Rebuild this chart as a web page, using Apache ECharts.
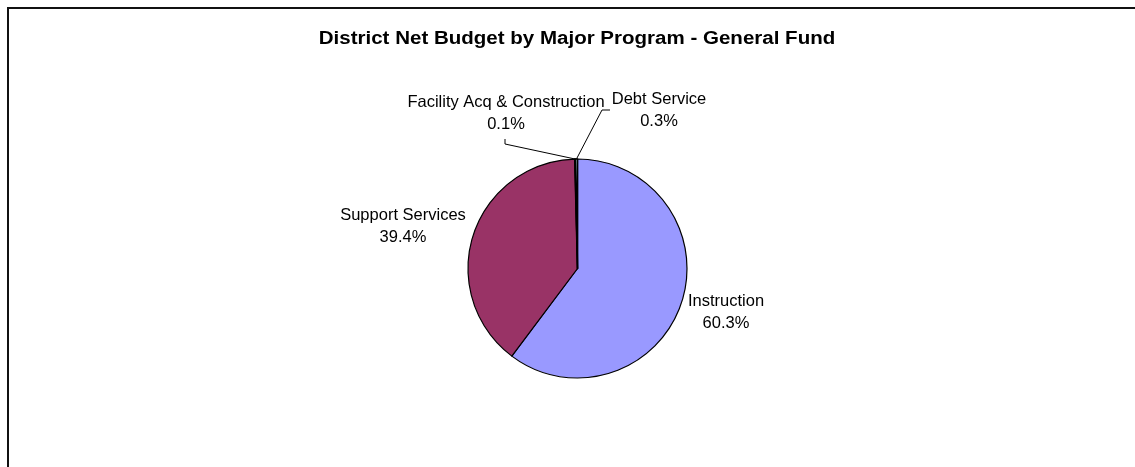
<!DOCTYPE html>
<html>
<head>
<meta charset="utf-8">
<title>District Net Budget by Major Program - General Fund</title>
<script src="https://cdn.jsdelivr.net/npm/echarts@6/dist/echarts.min.js"></script>
<style>
  html, body { margin: 0; padding: 0; background: #ffffff; }
  #chart { width: 1135px; height: 467px; }
</style>
</head>
<body>
<div id="chart"></div>
<script>
// Budget shares by major program (percent of General Fund)
const categories = ['Instruction', 'Support Services', 'Facility Acq & Construction', 'Debt Service'];
const shares = [60.3, 39.4, 0.1, 0.3];
const sliceColors = ['#9999FF', '#993366', '#FFFFCC', '#CCFFFF'];
const chartTitle = 'District Net Budget by Major Program - General Fund';

// Pie geometry
const CX = 577.5, CY = 268.5, R = 109.5;
// Label centres, relative to the pie centre
const labelOffsets = [[148.5, 43.5], [-174.5, -42.5], [-71.5, -155.5], [81.5, -158.5]];
// Leader lines for the thin slices: bend point and end point near the label (relative to centre)
const leaderPoints = [null, null, [[-72.5, -124.5], [-72.5, -129.5]], [[24.5, -158.5], [32.5, -158.5]]];
// Outline width per slice (the thin slices read as a heavier rule)
const borderWidths = [1.2, 1.2, 1.6, 1.6];

const total = shares.reduce((a, b) => a + b, 0);

// Point on the pie rim at the middle of slice i (clockwise from 12 o'clock)
function rimPoint(i) {
  let before = 0;
  for (let k = 0; k < i; k++) before += shares[k];
  const frac = (before + shares[i] / 2) / total;
  const a = frac * 2 * Math.PI;
  return [CX + R * Math.sin(a), CY - R * Math.cos(a)];
}

const chart = echarts.init(document.getElementById('chart'), null, { renderer: 'canvas' });

chart.setOption({
  backgroundColor: '#ffffff',
  animation: false,
  graphic: [
    {
      type: 'rect',
      silent: true,
      shape: { x: 8, y: 8, width: 1140, height: 470 },
      style: { fill: 'none', stroke: '#111111', lineWidth: 2 }
    },
    {
      type: 'text',
      silent: true,
      x: 577,
      y: 39,
      scaleX: 1.14,
      style: {
        text: chartTitle,
        font: 'bold 18px "Liberation Sans", Arial, sans-serif',
        fill: '#000000',
        textAlign: 'center',
        textVerticalAlign: 'middle'
      }
    }
  ],
  series: [{
    type: 'pie',
    center: [CX, CY],
    radius: R,
    startAngle: 90,
    clockwise: true,
    avoidLabelOverlap: false,
    emphasis: { disabled: true },
    itemStyle: { borderColor: '#000000', borderWidth: 1.2 },
    label: {
      show: true,
      position: 'outside',
      formatter: p => p.name + '\n' + shares[p.dataIndex].toFixed(1) + '%',
      fontFamily: '"Liberation Sans", Arial, sans-serif',
      fontSize: 16.5,
      lineHeight: 22,
      color: '#000000'
    },
    labelLine: {
      show: true,
      smooth: false,
      lineStyle: { color: '#000000', width: 1 }
    },
    labelLayout: function (params) {
      const i = params.dataIndex;
      const off = labelOffsets[i];
      const out = {
        x: CX + off[0],
        y: CY + off[1],
        align: 'center',
        verticalAlign: 'middle'
      };
      const lp = leaderPoints[i];
      if (lp) {
        out.labelLinePoints = [
          rimPoint(i),
          [CX + lp[0][0], CY + lp[0][1]],
          [CX + lp[1][0], CY + lp[1][1]]
        ];
      }
      return out;
    },
    data: categories.map((name, i) => ({
      name: name,
      value: shares[i],
      itemStyle: { color: sliceColors[i], borderWidth: borderWidths[i] },
      labelLine: { show: leaderPoints[i] !== null }
    }))
  }]
});
</script>
</body>
</html>
